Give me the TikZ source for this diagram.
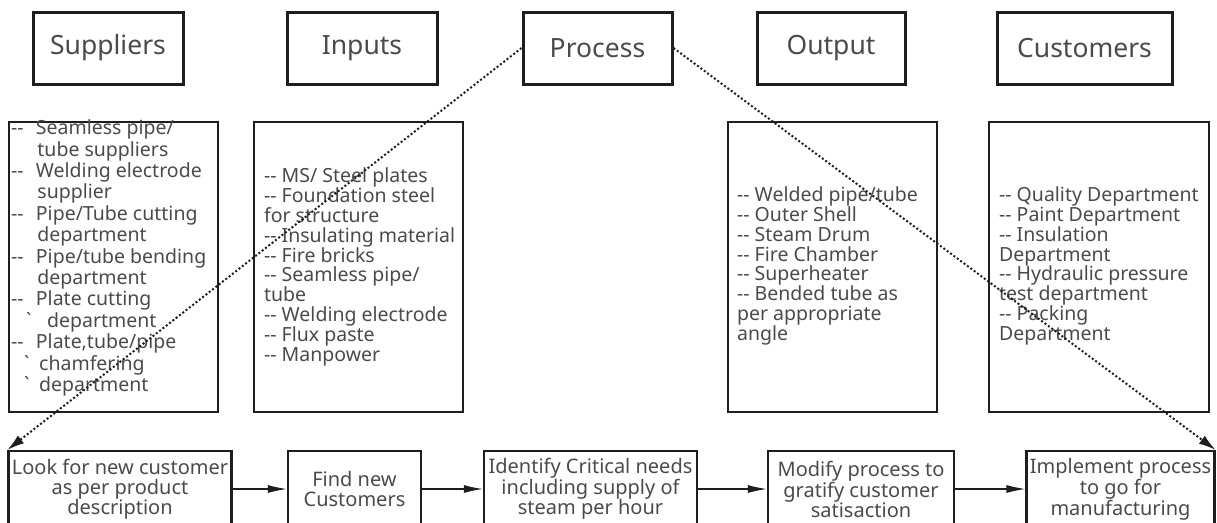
\documentclass[tikz,border=0pt]{standalone}
\usepackage{fontspec}
\setmainfont{Noto Sans}
\usetikzlibrary{arrows.meta,positioning}
\definecolor{txtgray}{HTML}{4A4A4A}
\definecolor{edgegray}{HTML}{1E1E1E}
\newcommand{\dashitem}{-{}-\hspace{0.63em}}
\newcommand{\tickline}[2]{\hspace*{#1}\rlap{\textasciigrave}\hspace*{#2}}
\tikzset{
  headbox/.style={draw=edgegray, line width=3pt, minimum width=150, minimum height=72,
    text=txtgray, font=\fontsize{26.5}{30}\selectfont},
  listbox/.style={draw=edgegray, line width=2.2pt, minimum width=209, minimum height=290},
  listtext/.style={text=txtgray, align=left, inner sep=0pt, font=\fontsize{19.5}{19.8}\selectfont},
  stepbox/.style={draw=edgegray, line width=2.2pt, minimum height=76, align=center,
    text=txtgray, font=\fontsize{20}{20}\selectfont},
  flow/.style={-{Latex[length=19pt,width=8pt]}, line width=1.2pt, edgegray},
  link/.style={-{Latex[length=17pt,width=10pt]}, line width=2pt, edgegray,
    dash pattern=on 2pt off 2.2pt},
}
\begin{document}
\begin{tikzpicture}[x=1pt,y=-1pt]
\useasboundingbox (0,0) rectangle (1217,522);
\clip (0,0) rectangle (1217,522);

% heading boxes
\node[headbox] (suppliers) at (108,48) {Suppliers};
\node[headbox] (inputs) at (362,48) {Inputs};
\node[headbox, minimum width=149] (process) at (597.5,48) {Process};
\node[headbox, minimum width=148] (output) at (831,48) {Output};
\node[headbox, minimum width=175] (customers) at (1084.5,48) {Customers};

% list boxes
\node[listbox] (suplist) at (113.5,267) {};
\node[listbox] (inlist) at (358.5,267) {};
\node[listbox] (outlist) at (832.5,267) {};
\node[listbox, minimum width=220] (custlist) at (1099,267) {};

\node[listtext, anchor=west, font=\fontsize{19.5}{21.4}\selectfont] (suptext)
  at ([xshift=3,yshift=9]suplist.west) {%
\dashitem Seamless pipe/\\
\hspace*{1.35em}tube suppliers\\
\dashitem Welding electrode\\
\hspace*{1.35em}supplier\\
\dashitem Pipe/Tube cutting\\
\hspace*{1.35em}department\\
\dashitem Pipe/tube bending\\
\hspace*{1.35em}department\\
\dashitem Plate cutting\\
\tickline{0.77em}{1.08em}department\\
\dashitem Plate,tube/pipe\\
\tickline{0.67em}{0.77em}chamfering\\
\tickline{0.67em}{0.77em}department};

\node[listtext, anchor=west] (intext) at ([xshift=11]inlist.west) {%
-{}- MS/ Steel plates\\
-{}- Foundation steel\\
for structure\\
-{}- Insulating material\\
-{}- Fire bricks\\
-{}- Seamless pipe/\\
tube\\
-{}- Welding electrode\\
-{}- Flux paste\\
-{}- Manpower};

\node[listtext, anchor=west] (outtext) at ([xshift=10,yshift=1]outlist.west) {%
-{}- Welded pipe/tube\\
-{}- Outer Shell\\
-{}- Steam Drum\\
-{}- Fire Chamber\\
-{}- Superheater\\
-{}- Bended tube as\\
per appropriate\\
angle};

\node[listtext, anchor=west] (custtext) at ([xshift=11,yshift=1]custlist.west) {%
-{}- Quality Department\\
-{}- Paint Department\\
-{}- Insulation\\
Department\\
-{}- Hydraulic pressure\\
test department\\
-{}- Packing\\
Department};

% step boxes
\node[stepbox, minimum width=220] (look) at (120,489) {Look for new customer\\as per product\\description};
\node[stepbox, minimum width=133] (find) at (354.5,489) {Find new\\Customers};
\node[stepbox, minimum width=213] (identify) at (590.5,489) {Identify Critical needs\\including supply of\\steam per hour};
\node[stepbox, minimum width=186] (modify) at (861,489) {Modify process to\\gratify customer\\satisaction};
\node[stepbox, minimum width=183] (implement) at (1120.5,489) {Implement process\\to go for\\manufacturing};

% arrows
\draw[flow] (look) -- (find);
\draw[flow] (find) -- (identify);
\draw[flow] (identify) -- (modify);
\draw[flow] (modify) -- (implement);

% dotted links
\draw[link] (process.west) -- (look.north west);
\draw[link] (process.east) -- (implement.north east);

\end{tikzpicture}
\end{document}
